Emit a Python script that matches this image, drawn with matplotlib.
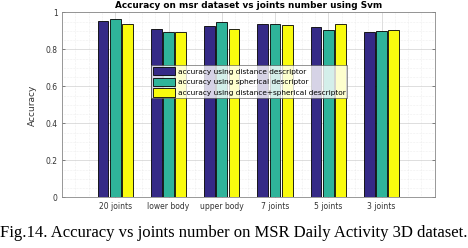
import matplotlib
matplotlib.use("Agg")
import matplotlib.pyplot as plt
import numpy as np
from matplotlib.ticker import MultipleLocator

categories = ["20 joints", "lower body", "upper body", "7 joints", "5 joints", "3 joints"]
dist = [0.953, 0.910, 0.926, 0.935, 0.919, 0.895]
spher = [0.964, 0.895, 0.946, 0.940, 0.904, 0.897]
both = [0.937, 0.895, 0.910, 0.931, 0.940, 0.904]
series_labels = ["accuracy using distance descriptor",
                 "accuracy using spherical descriptor",
                 "accuracy using distance+spherical descriptor"]
colors = ["#352A87", "#2FB49A", "#F9FB0E"]
yticks = [0, 0.2, 0.4, 0.6, 0.8, 1]
ytick_labels = ["0", "0.2", "0.4", "0.6", "0.8", "1"]

fig = plt.figure(figsize=(4.68, 2.48), dpi=100)
ax = fig.add_axes([0.1325, 0.204, 0.7965, 0.746])
x = np.arange(1, len(categories) + 1)
w = 0.2
for i, (vals, lab, c) in enumerate(zip([dist, spher, both], series_labels, colors)):
    ax.bar(x + (i - 1) * 0.23, vals, width=w, color=c, edgecolor="black",
           linewidth=0.6, label=lab, zorder=3)

ax.set_xlim(0, 7)
ax.set_ylim(0, 1)
ax.set_xticks(x)
ax.set_xticklabels(categories, fontsize=5.5, color="#333333")
ax.set_yticks(yticks)
ax.set_yticklabels(ytick_labels, fontsize=5.5, color="#333333")
ax.yaxis.set_minor_locator(MultipleLocator(0.05))
ax.xaxis.set_minor_locator(MultipleLocator(0.25))
ax.grid(True, which="major", color="#d0d0d0", linewidth=0.5, zorder=0)
ax.grid(True, which="minor", color="#e0e0e0", linewidth=0.4, linestyle=":", zorder=0)
ax.tick_params(which="both", direction="in", length=2, width=0.5, colors="#555555",
               right=True, top=False, labelcolor="#333333", pad=3)
ax.tick_params(which="minor", length=0)
for s in ax.spines.values():
    s.set_color("#888888")
    s.set_linewidth(0.6)
ax.set_ylabel("Accuracy", fontsize=6.5, color="#333333", labelpad=6)
ax.set_title("Accuracy on msr dataset vs joints number using Svm", fontsize=6.4,
             fontweight="bold", pad=3)
leg = ax.legend(loc="upper left", bbox_to_anchor=(0.24, 0.715), fontsize=5.3,
                frameon=True, fancybox=False, edgecolor="#444444",
                handlelength=3.0, handleheight=1.4, borderpad=0.25,
                labelspacing=0.28, handletextpad=0.3, borderaxespad=0)
leg.get_frame().set_linewidth(0.5)
leg.set_zorder(5)

fig.text(0.5, 0.06, "Fig.14. Accuracy vs joints number on MSR Daily Activity 3D dataset.",
         ha="center", va="center", fontsize=12, family="Liberation Serif")
fig.savefig("out.png", dpi=100, facecolor="white")
